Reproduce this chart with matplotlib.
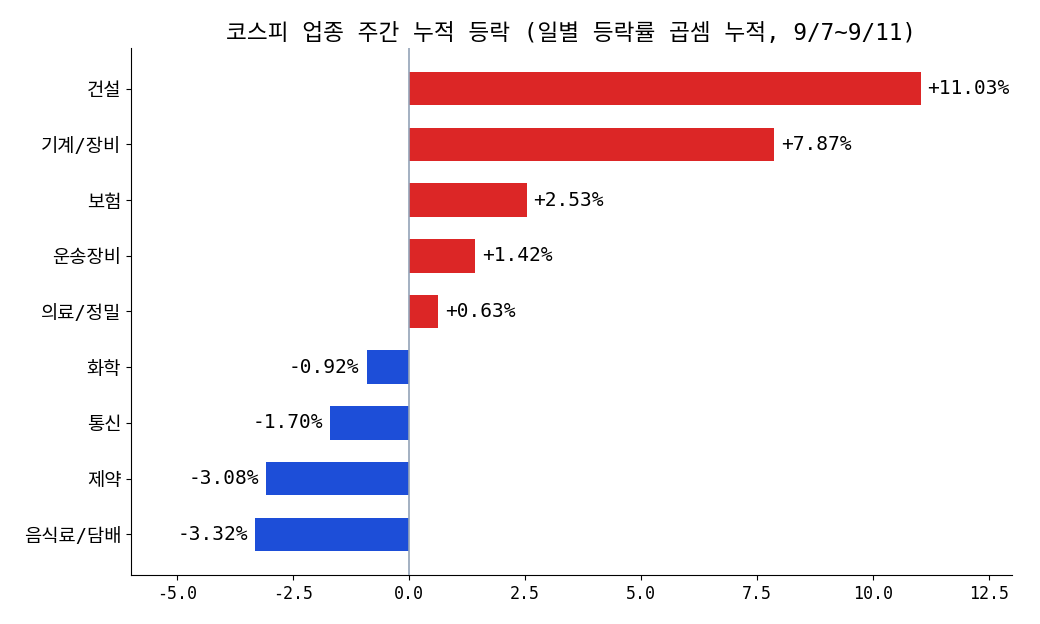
import matplotlib
matplotlib.use("Agg")
import matplotlib.pyplot as plt

plt.rcParams['font.family'] = ['DejaVu Sans Mono', 'Noto Sans CJK KR']
plt.rcParams['axes.unicode_minus'] = False

sectors = ["건설", "기계/장비", "보험", "운송장비", "의료/정밀", "화학", "통신", "제약", "음식료/담배"]
values = [11.03, 7.87, 2.53, 1.42, 0.63, -0.92, -1.70, -3.08, -3.32]
title = "코스피 업종 주간 누적 등락 (일별 등락률 곱셈 누적, 9/7~9/11)"

RED = "#DC2626"
BLUE = "#1D4ED8"

fig = plt.figure(figsize=(10.4, 6.24), dpi=100)
ax = fig.add_axes([131/1040, 1-575/624, (1012-131)/1040, (575-48)/624])

colors = [RED if v >= 0 else BLUE for v in values]
ypos = list(range(len(sectors)))
ax.barh(ypos, values, height=0.6, color=colors, zorder=2)
ax.set_yticks(ypos)
ax.set_yticklabels(sectors, fontsize=13.5)
ax.invert_yaxis()
ax.axvline(0, color="#94A3B8", linewidth=1.2, zorder=3)
ax.set_xlim(-6, 13)
ax.set_xticks([-5, -2.5, 0, 2.5, 5, 7.5, 10, 12.5])
ax.set_xticklabels(["-5.0", "-2.5", "0.0", "2.5", "5.0", "7.5", "10.0", "12.5"], fontsize=12)

for y, v in zip(ypos, values):
    txt = f"{v:+.2f}%"
    if v >= 0:
        ax.text(v + 0.15, y, txt, va="center", ha="left", fontsize=14)
    else:
        ax.text(v - 0.15, y, txt, va="center", ha="right", fontsize=14)

ax.spines["top"].set_visible(False)
ax.spines["right"].set_visible(False)
ax.set_title(title, fontsize=16.3, pad=6)

fig.savefig("out.png", dpi=100)
